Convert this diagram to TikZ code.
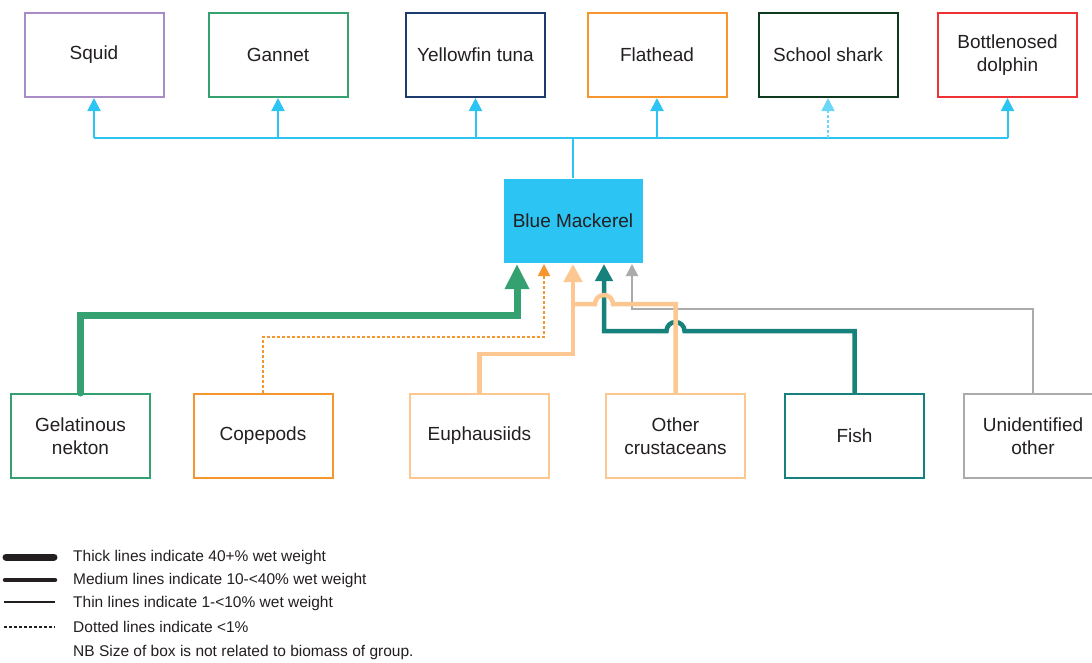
\documentclass[tikz,border=0pt]{standalone}
\usepackage{fontspec}
\setmainfont{Liberation Sans}
\usetikzlibrary{arrows.meta}

\definecolor{mackblue}{HTML}{2BC4F3}
\definecolor{squidpurple}{HTML}{A98BC6}
\definecolor{gannetgreen}{HTML}{35A171}
\definecolor{tunanavy}{HTML}{1C3C6E}
\definecolor{flatorange}{HTML}{F7962F}
\definecolor{sharkgreen}{HTML}{0E3B1F}
\definecolor{dolphinred}{HTML}{EE3135}
\definecolor{crustpeach}{HTML}{FDC791}
\definecolor{fishteal}{HTML}{17817B}
\definecolor{othergrey}{HTML}{ABABAB}
\definecolor{textgrey}{HTML}{231F20}

\tikzset{
    group/.style={draw, line width=2pt, minimum width=139pt, minimum height=84pt, inner sep=0pt,
        align=center, text=textgrey, font=\fontsize{19}{23.5}\selectfont},
    eaten/.style={mackblue, line width=2pt, -{Triangle[length=13pt,width=13pt]}},
    thickflow/.style={line width=7pt, line cap=round, -{Triangle[length=25pt,width=23pt]}},
    mediumflow/.style={line width=4.5pt},
    thinflow/.style={line width=2pt},
    dotflow/.style={line width=2pt, dash pattern=on 3pt off 2pt},
    legendtext/.style={anchor=west, inner sep=0pt, text=textgrey, font=\fontsize{15.5}{18}\selectfont}
}

\begin{document}
\begin{tikzpicture}[x=1pt,y=-1pt]
    \useasboundingbox (0,0) rectangle (1092,662);

    % predators
    \node[group, draw=squidpurple] (squid) at (94,55) {Squid};
    \node[group, draw=gannetgreen] (gannet) at (278,55) {Gannet};
    \node[group, draw=tunanavy] (tuna) at (475.5,55) {Yellowfin tuna};
    \node[group, draw=flatorange] (flathead) at (657,55) {Flathead};
    \node[group, draw=sharkgreen] (shark) at (828,55) {School shark};
    \node[group, draw=dolphinred] (dolphin) at (1007.5,55) {Bottlenosed\\dolphin};

    \node[group, draw=none, fill=mackblue] (mack) at (573,221) {Blue Mackerel};

    % prey
    \node[group, draw=gannetgreen] (gel) at (80.5,436) {Gelatinous\\nekton};
    \node[group, draw=flatorange] (cope) at (263,436) {Copepods};
    \node[group, draw=crustpeach] (euph) at (479.5,436) {Euphausiids};
    \node[group, draw=crustpeach] (ocrust) at (675.5,436) {Other\\crustaceans};
    \node[group, draw=fishteal] (fish) at (854.5,436) {Fish};
    \node[group, draw=othergrey] (other) at (1033,436) {Unidentified\\other};

    % blue mackerel to predators
    \coordinate (rail) at (0,138);
    \draw[mackblue, line width=2pt] (mack.north) -- (mack.north |- rail);
    \draw[mackblue, line width=2pt] (squid.south |- rail) -- (dolphin.south |- rail);
    \draw[eaten] (squid.south |- rail) -- (squid.south);
    \draw[eaten] (gannet.south |- rail) -- (gannet.south);
    \draw[eaten] (tuna.south |- rail) -- (tuna.south);
    \draw[eaten] (flathead.south |- rail) -- (flathead.south);
    \draw[eaten, mackblue!70, line width=1.5pt, dash pattern=on 3pt off 2pt] (shark.south |- rail) -- (shark.south);
    \draw[eaten] (dolphin.south |- rail) -- (dolphin.south);

    % prey to blue mackerel
    \draw[thinflow, othergrey, -{Triangle[length=12pt,width=12pt]}] (other.north) |- ([xshift=59pt,yshift=-45pt]mack.south) -- ([xshift=59pt]mack.south);
    \draw[mediumflow, fishteal, -{Triangle[length=17pt,width=17pt]}] (fish.north) |- ([xshift=111.5pt,yshift=-67pt]mack.south)
        arc[start angle=0, end angle=180, radius=9pt] -- ([xshift=31pt,yshift=-67pt]mack.south) -- ([xshift=31pt]mack.south);
    \draw[mediumflow, crustpeach] (ocrust.north) |- ([xshift=40pt,yshift=-40pt]mack.south)
        arc[start angle=0, end angle=180, radius=9pt] -- ([yshift=-40pt]mack.south);
    \draw[mediumflow, crustpeach, -{Triangle[length=18pt,width=18pt]}] (euph.north) |- ([yshift=-90pt]mack.south) -- (mack.south);
    \draw[dotflow, flatorange, -{Triangle[length=12pt,width=12pt]}] (cope.north) |- ([xshift=-29pt,yshift=-73pt]mack.south) -- ([xshift=-29pt]mack.south);
    \draw[thickflow, gannetgreen] (gel.north) |- ([xshift=-56pt,yshift=-51pt]mack.south) -- ([xshift=-56pt]mack.south);

    % legend
    \node[legendtext] (leg1) at (73,557) {Thick lines indicate 40+\% wet weight};
    \node[legendtext] (leg2) at (73,580) {Medium lines indicate 10-<40\% wet weight};
    \node[legendtext] (leg3) at (73,603) {Thin lines indicate 1-<10\% wet weight};
    \node[legendtext] (leg4) at (73,627) {Dotted lines indicate <1\%};
    \node[legendtext] (leg5) at (73,652) {NB Size of box is not related to biomass of group.};
    \draw[textgrey, line width=7pt, line cap=round] (6,557) -- (54,557);
    \draw[textgrey, line width=4.5pt, line cap=round] (5,580) -- (55,580);
    \draw[textgrey, line width=2pt] (4,602) -- (55,602);
    \draw[textgrey, dotflow] (4,627) -- (55,627);
\end{tikzpicture}
\end{document}
